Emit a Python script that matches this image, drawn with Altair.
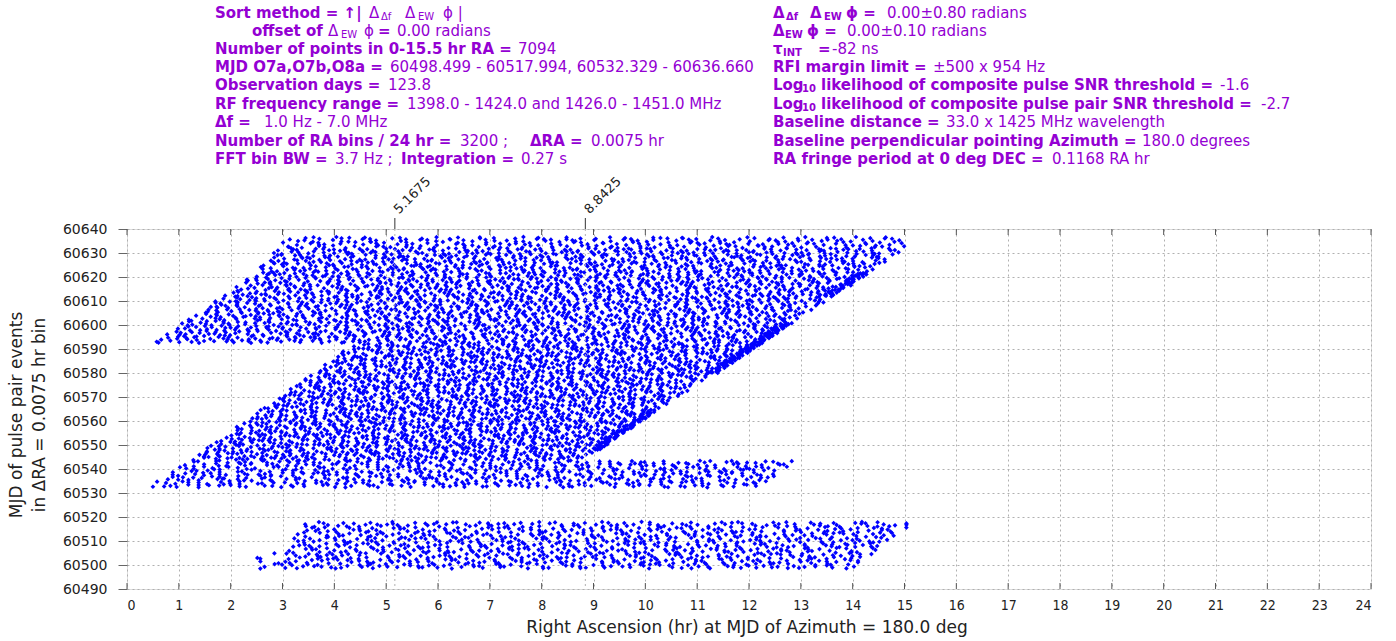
import numpy as np
import pandas as pd
import altair as alt

# ---------------- values ----------------
x_ticks = list(range(0, 25))
y_ticks = list(range(60490, 60641, 10))
x2_ticks = [5.1675, 8.8425]
x2_labels = ["5.1675", "8.8425"]

# occupied regions of the scatter (MJD range, RA left edge and right edge at
# the bottom and top of each region, number of events in it)
region_y0 = [60498.5, 60498.3, 60532.3, 60543.5, 60592.5, 60621.0, 60632.0, 60548.0, 60580.0, 60612.0]
region_y1 = [60518.0, 60505.0, 60543.5, 60592.5, 60621.0, 60632.0, 60636.7, 60564.0, 60601.0, 60622.0]
region_lo0 = [2.9, 2.25, 0.4, 1.2, 0.5, 2.45, 2.9, 8.95, 11.2, 13.4]
region_lo1 = [3.4, 2.6, 1.2, 4.4, 2.45, 2.9, 3.1, 10.0, 12.6, 14.1]
region_hi0 = [14.0, 2.95, 12.2, 8.8, 12.2, 14.3, 15.0, 9.11, 11.4, 13.6]
region_hi1 = [15.2, 2.95, 12.9, 12.2, 14.3, 15.0, 15.0, 10.2, 12.85, 14.3]
region_n = [1000, 8, 620, 2400, 1950, 720, 240, 70, 110, 40]

# header text (bold label / normal value)
left_lines = [
    "Number of points in 0-15.5 hr RA =", "7094",
    "MJD O7a,O7b,O8a =", "60498.499 - 60517.994, 60532.329 - 60636.660",
    "Observation days =", "123.8",
    "RF frequency range =", "1398.0 - 1424.0 and 1426.0 - 1451.0 MHz",
    "\u0394f  =", "1.0 Hz - 7.0 MHz",
]


# ---------------- build point table (Halton fill of each region) ----------------
def halton(idx, base):
    out = np.zeros(len(idx))
    f = np.ones(len(idx))
    i = idx.astype(float).copy()
    while np.any(i > 0):
        f = f / base
        out = out + f * (i % base)
        i = np.floor(i / base)
    return out


xs, ys = [], []
for k in range(len(region_n)):
    idx = np.arange(1, region_n[k] + 1) + 997 * (k + 1)
    u = halton(idx, 2)
    v = halton(idx, 3)
    y = region_y0[k] + v * (region_y1[k] - region_y0[k])
    lo = region_lo0[k] + v * (region_lo1[k] - region_lo0[k])
    hi = region_hi0[k] + v * (region_hi1[k] - region_hi0[k])
    xs.append(lo + u * (hi - lo))
    ys.append(y)
pts = pd.DataFrame({"ra": np.concatenate(xs), "mjd": np.concatenate(ys)})

W, H = 1244, 360
OX, OY = 127, 229
BFS, NFS, SFS = 15, 15, 10
SB = 2  # subscript baseline shift

# header layout: (abs x, abs baseline y, text, font size)
bold_items = [
    (215, 18, "Sort method = \u2191|", BFS),
    (252, 36, "offset of", BFS), (378, 36, "=", BFS),
    (215, 54, left_lines[0], BFS),
    (215, 72, left_lines[2], BFS),
    (215, 90, left_lines[4], BFS),
    (215, 109, left_lines[6], BFS),
    (215, 127, left_lines[8], BFS),
    (215, 146, "Number of RA bins / 24 hr =", BFS), (530, 146, "\u0394RA =", BFS),
    (215, 164, "FFT bin BW =", BFS), (401, 164, "Integration =", BFS),
    (773, 18, "\u0394", BFS), (786, 18 + SB, "\u0394f", SFS), (810, 18, "\u0394", BFS),
    (824, 18 + SB, "EW", SFS), (846, 18, "\u03d5 =", BFS),
    (773, 36, "\u0394", BFS), (785, 36 + SB, "EW", SFS), (807, 36, "\u03d5 =", BFS),
    (773, 54, "\u03c4", BFS), (783, 54 + SB, "INT", SFS), (818, 54, "=", BFS),
    (773, 72, "RFI margin limit =", BFS),
    (773, 90, "Log", BFS), (802, 90 + SB, "10", SFS), (821, 90, "likelihood of composite pulse SNR threshold =", BFS),
    (773, 109, "Log", BFS), (802, 109 + SB, "10", SFS), (821, 109, "likelihood of composite pulse pair SNR threshold =", BFS),
    (773, 127, "Baseline distance =", BFS),
    (773, 146, "Baseline perpendicular pointing Azimuth =", BFS),
    (773, 164, "RA fringe period at 0 deg DEC =", BFS),
]
normal_items = [
    (369, 18, "\u0394", NFS), (381, 18 + SB, "\u0394f", SFS), (405, 18, "\u0394", NFS),
    (418, 18 + SB, "EW", SFS), (443, 18, "\u03d5 |", NFS),
    (328, 36, "\u0394", NFS), (341, 36 + SB, "EW", SFS), (364, 36, "\u03d5", NFS), (397, 36, "0.00 radians", NFS),
    (518, 54, left_lines[1], NFS),
    (390, 72, left_lines[3], NFS),
    (388, 90, left_lines[5], NFS),
    (407, 109, left_lines[7], NFS),
    (264, 127, left_lines[9], NFS),
    (460, 146, "3200 ;", NFS), (591, 146, "0.0075 hr", NFS),
    (335, 164, "3.7 Hz ;", NFS), (521, 164, "0.27 s", NFS),
    (887, 18, "0.00\u00b10.80 radians", NFS),
    (847, 36, "0.00\u00b10.10 radians", NFS),
    (832, 54, "-82 ns", NFS),
    (933, 72, "\u00b1500 x 954 Hz", NFS),
    (1220, 90, "-1.6", NFS),
    (1261, 109, "-2.7", NFS),
    (946, 127, "33.0 x 1425 MHz wavelength", NFS),
    (1142, 146, "180.0 degrees", NFS),
    (1052, 164, "0.1168 RA hr", NFS),
]


def items_df(items):
    return pd.DataFrame({
        "px": [a - OX for a, _, _, _ in items],
        "py": [b - OY for _, b, _, _ in items],
        "txt": [t for _, _, t, _ in items],
        "fs": [s for _, _, _, s in items],
    })


xscale = alt.Scale(domain=[0, 24], nice=False, zero=False)
yscale = alt.Scale(domain=[60490, 60640], nice=False, zero=False)

points = alt.Chart(pts).mark_point(
    shape="diamond", filled=True, size=22, color="#0000ff", opacity=1
).encode(
    x=alt.X("ra:Q", scale=xscale, axis=alt.Axis(
        values=x_ticks, title=None, grid=True, gridDash=[2, 3], gridColor="#b0b0b0",
        ticks=False, tickSize=0, domain=False, labelPadding=9, labelFontSize=14,
        labelFont="DejaVu Sans Condensed, DejaVu Sans", labelColor="#222222")),
    y=alt.Y("mjd:Q", scale=yscale, axis=alt.Axis(
        values=y_ticks, format="d", title=None, grid=True, gridDash=[2, 3], gridColor="#b0b0b0",
        ticks=True, tickSize=9, tickColor="#666666", domain=False, labelPadding=11,
        labelFontSize=14, labelFont="DejaVu Sans", labelColor="#222222")),
)

tick_df = pd.DataFrame({"t": x_ticks})
ticks_bottom = alt.Chart(tick_df).mark_rule(color="#555555", strokeWidth=1).encode(
    x=alt.X("t:Q", scale=xscale), y=alt.value(H), y2=alt.value(H - 6))
ticks_top = alt.Chart(tick_df).mark_rule(color="#555555", strokeWidth=1).encode(
    x=alt.X("t:Q", scale=xscale), y=alt.value(0), y2=alt.value(6))

x2_df = pd.DataFrame({"t": x2_ticks, "lab": x2_labels})
x2_grid = alt.Chart(x2_df).mark_rule(color="#b0b0b0", strokeDash=[2, 3], strokeWidth=1).encode(
    x=alt.X("t:Q", scale=xscale), y=alt.value(0), y2=alt.value(H))
x2_tick = alt.Chart(x2_df).mark_rule(color="#333333", strokeWidth=1).encode(
    x=alt.X("t:Q", scale=xscale), y=alt.value(-11), y2=alt.value(0))
x2_text = alt.Chart(x2_df).mark_text(
    angle=315, align="left", baseline="middle", font="DejaVu Sans", fontSize=13,
    color="#222222", dx=2, dy=0
).encode(x=alt.X("t:Q", scale=xscale), y=alt.value(-16), text="lab:N")

titles_df = pd.DataFrame({
    "px": [747 - OX, 17 - OX, 40 - OX],
    "py": [628 - OY, 415 - OY, 415 - OY],
    "txt": ["Right Ascension (hr) at MJD of Azimuth = 180.0 deg",
            "MJD of pulse pair events", "in \u0394RA = 0.0075 hr bin"],
})
xtitle = alt.Chart(titles_df.iloc[[0]]).mark_text(
    align="center", baseline="middle", font="DejaVu Sans", fontSize=17, color="#222222"
).encode(x=alt.X("px:Q", scale=None), y=alt.Y("py:Q", scale=None), text="txt:N")
ytitle = alt.Chart(titles_df.iloc[[1, 2]]).mark_text(
    align="center", baseline="middle", font="DejaVu Sans", fontSize=17, color="#222222", angle=270
).encode(x=alt.X("px:Q", scale=None), y=alt.Y("py:Q", scale=None), text="txt:N")

hdr_bold = alt.Chart(items_df(bold_items)).mark_text(
    align="left", baseline="alphabetic", font="DejaVu Sans", fontWeight="bold", color="#9400d3"
).encode(x=alt.X("px:Q", scale=None), y=alt.Y("py:Q", scale=None), text="txt:N",
         size=alt.Size("fs:Q", scale=None, legend=None))
hdr_norm = alt.Chart(items_df(normal_items)).mark_text(
    align="left", baseline="alphabetic", font="DejaVu Sans", fontWeight="normal", color="#9400d3"
).encode(x=alt.X("px:Q", scale=None), y=alt.Y("py:Q", scale=None), text="txt:N",
         size=alt.Size("fs:Q", scale=None, legend=None))

chart = alt.layer(
    points, x2_grid, ticks_bottom, ticks_top, x2_tick, x2_text, xtitle, ytitle, hdr_bold, hdr_norm
).properties(
    width=W, height=H,
    autosize=alt.AutoSizeParams(type="none"),
    padding={"left": OX, "top": OY, "right": 1396 - OX - W, "bottom": 641 - OY - H},
).configure_view(stroke="#8c8c8c", strokeWidth=2).configure(background="white")

chart.save("out.html", embed_options={"renderer": "svg", "actions": False})
